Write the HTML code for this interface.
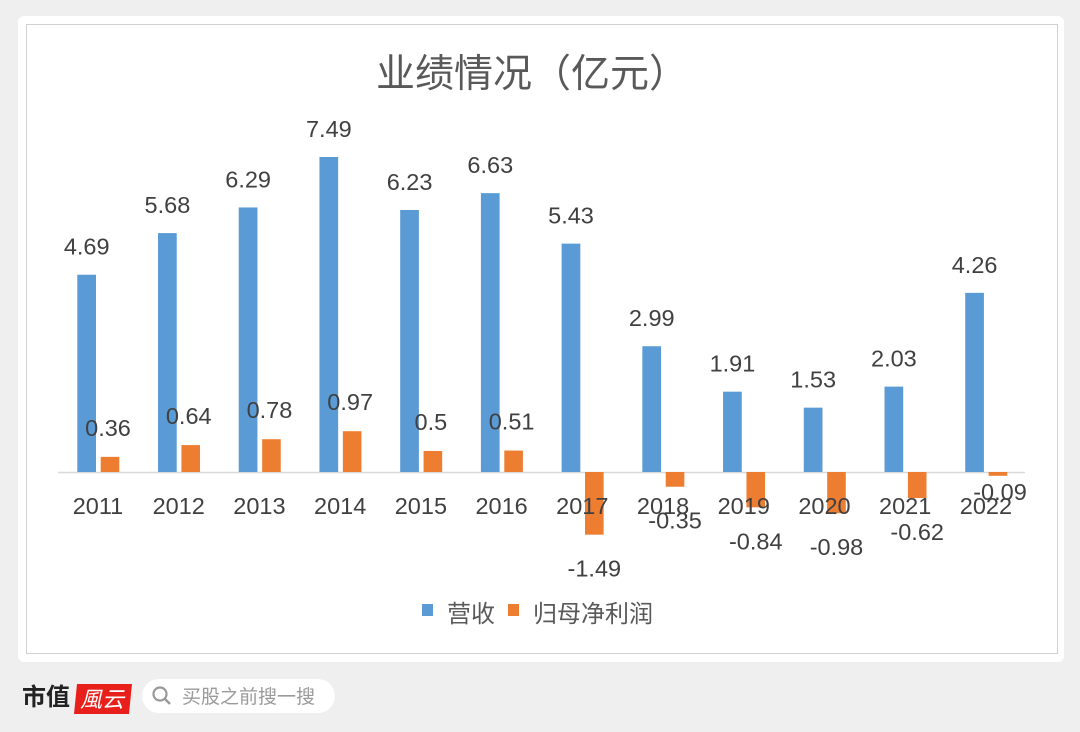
<!DOCTYPE html>
<html><head><meta charset="utf-8"><style>
html,body{margin:0;padding:0;background:#efefef;}
svg{display:block;}
text{font-family:"Liberation Sans","Noto Sans CJK SC",sans-serif;}
</style></head><body>
<svg width="1080" height="732" viewBox="0 0 1080 732" xmlns="http://www.w3.org/2000/svg">
<rect x="0" y="0" width="1080" height="732" fill="#efefef"/>
<rect x="18" y="16" width="1046" height="646" rx="6" fill="#fff"/>
<rect x="26.5" y="24.5" width="1031" height="629" fill="#fff" stroke="#d0d0d0" stroke-width="1"/>
<text x="532" y="87" font-size="39" fill="#595959" text-anchor="middle" font-family="Noto Sans CJK SC, sans-serif">业绩情况（亿元）</text>
<line x1="58" y1="472.5" x2="1025" y2="472.5" stroke="#d9d9d9" stroke-width="1.5"/>
<g id="bars"></g>
<rect x="422" y="604" width="11" height="12" fill="#5b9bd5"/>
<text x="447" y="622" font-size="24" fill="#595959" font-family="Noto Sans CJK SC, sans-serif">营收</text>
<rect x="508" y="604" width="11" height="12" fill="#ed7d31"/>
<text x="533" y="622" font-size="24" fill="#595959" font-family="Noto Sans CJK SC, sans-serif">归母净利润</text>
<text x="22" y="705" font-size="24" font-weight="bold" fill="#222" font-family="Noto Serif CJK SC, serif">市值</text>
<path d="M77 684 L132 684 L129 714 L74 714 Z" fill="#e8201c"/>
<text x="80" y="707" font-size="22" fill="#fff" font-style="italic" font-family="Noto Serif CJK SC, serif">風云</text>
<rect x="142" y="679" width="193" height="34" rx="17" fill="#fff"/>
<circle cx="160" cy="694" r="6.5" fill="none" stroke="#999" stroke-width="2.2"/>
<line x1="165" y1="699" x2="170" y2="704" stroke="#999" stroke-width="2.4"/>
<text x="182" y="703" font-size="19" fill="#9a9a9a" font-family="Noto Sans CJK SC, sans-serif">买股之前搜一搜</text>
</svg>
<script>
(function(){
var rev=[4.69,5.68,6.29,7.49,6.23,6.63,5.43,2.99,1.91,1.53,2.03,4.26];
var np=[0.36,0.64,0.78,0.97,0.5,0.51,-1.49,-0.35,-0.84,-0.98,-0.62,-0.09];
var base=472,k=42.06,s='',fs=23.5;
for(var i=0;i<12;i++){
 var c=98+80.72*i;
 var h=rev[i]*k;
 s+='<rect x="'+(c-20.7)+'" y="'+(base-h)+'" width="18.7" height="'+h+'" fill="#5b9bd5"/>';
 s+='<text x="'+(c-11.3)+'" y="'+(base-h-20)+'" font-size="'+fs+'" fill="#404040" text-anchor="middle">'+rev[i].toFixed(2)+'</text>';
 var v=np[i],hh=Math.abs(v)*k;
 if(v>=0){
  s+='<rect x="'+(c+2.7)+'" y="'+(base-hh)+'" width="18.6" height="'+hh+'" fill="#ed7d31"/>';
  s+='<text x="'+(c+10)+'" y="'+(base-hh-21)+'" font-size="'+fs+'" fill="#404040" text-anchor="middle">'+v+'</text>';
 }else{
  s+='<rect x="'+(c+2.7)+'" y="'+base+'" width="18.6" height="'+hh+'" fill="#ed7d31"/>';
  if(i==11) s+='<text x="1000" y="500" font-size="'+fs+'" fill="#404040" text-anchor="middle">'+v+'</text>';
  else s+='<text x="'+(c+12)+'" y="'+(base+hh+42)+'" font-size="'+fs+'" fill="#404040" text-anchor="middle">'+v+'</text>';
 }
 s+='<text x="'+c+'" y="514" font-size="'+fs+'" fill="#404040" text-anchor="middle">'+(2011+i)+'</text>';
}
document.getElementById('bars').innerHTML=s;
})();
</script>
</body></html>
